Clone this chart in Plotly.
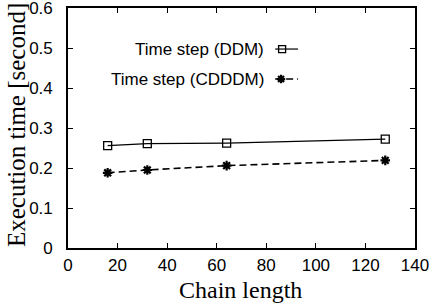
import plotly.graph_objects as go

chain_length = [16, 32, 64, 128]
ddm = [0.256, 0.261, 0.262, 0.272]
cdddm = [0.188, 0.195, 0.206, 0.219]
names = ["Time step (DDM)", "Time step (CDDDM)"]
x_title = "Chain length"
y_title = "Execution time [second]"

fig = go.Figure()
fig.add_trace(go.Scatter(x=chain_length, y=ddm, mode="lines+markers", name=names[0],
                         line=dict(color="black", width=1.2),
                         marker=dict(symbol="square-open", size=8, color="black", line=dict(width=1.3)),
                         showlegend=False))
fig.add_trace(go.Scatter(x=chain_length, y=cdddm, mode="lines+markers", name=names[1],
                         line=dict(color="black", width=1.6, dash="7px,4px"),
                         marker=dict(symbol="asterisk-open", size=8, color="black", line=dict(width=2.2, color="black")),
                         showlegend=False))

# legend samples on an overlay axis (0-1 units)
leg_y = [0.829, 0.704]
fig.add_trace(go.Scatter(x=[0.597, 0.663], y=[leg_y[0]] * 2, xaxis="x2", yaxis="y2", mode="lines",
                         line=dict(color="black", width=1.2), showlegend=False, hoverinfo="skip"))
fig.add_trace(go.Scatter(x=[0.617], y=[leg_y[0]], xaxis="x2", yaxis="y2", mode="markers",
                         marker=dict(symbol="square-open", size=7, color="black", line=dict(width=1.3)),
                         showlegend=False, hoverinfo="skip"))
fig.add_trace(go.Scatter(x=[0.597, 0.663], y=[leg_y[1]] * 2, xaxis="x2", yaxis="y2", mode="lines",
                         line=dict(color="black", width=1.6, dash="7px,4px"), showlegend=False, hoverinfo="skip"))
fig.add_trace(go.Scatter(x=[0.614], y=[leg_y[1]], xaxis="x2", yaxis="y2", mode="markers",
                         marker=dict(symbol="asterisk-open", size=7, color="black", line=dict(width=2.2, color="black")),
                         showlegend=False, hoverinfo="skip"))
for nm, yy in zip(names, leg_y):
    fig.add_annotation(x=0.570, y=yy, xref="x2", yref="y2", text=nm, showarrow=False,
                       xanchor="right", yanchor="middle",
                       font=dict(family="Liberation Sans, Arial", size=17, color="black"))

serif = dict(family="Liberation Serif, Times New Roman", size=24, color="black")
fig.add_annotation(x=0.496, y=-0.234, xref="paper", yref="paper", text=x_title, showarrow=False,
                   xanchor="center", yanchor="bottom", borderpad=0, font=serif)
fig.add_annotation(x=-0.15, y=0.512, xref="paper", yref="paper", text=y_title, showarrow=False,
                   xanchor="center", yanchor="middle", textangle=-90,
                   font=dict(family="Liberation Serif, Times New Roman", size=25, color="black"))

axis_common = dict(showgrid=False, zeroline=False, showline=True, mirror="ticks", linecolor="black",
                   linewidth=1.6, ticks="inside", ticklen=5, tickcolor="black", tickwidth=1.2,
                   automargin=False, ticklabeloverflow="allow",
                   tickfont=dict(family="Liberation Sans, Arial", size=17, color="black"))

fig.update_layout(
    width=429, height=304,
    margin=dict(l=68, r=14, t=8, b=56),
    paper_bgcolor="white", plot_bgcolor="white",
    xaxis=dict(range=[0, 140], dtick=20, ticklabelstandoff=1, **axis_common),
    yaxis=dict(range=[0, 0.6], dtick=0.1, tickformat="~g", ticklabelstandoff=10, **axis_common),
    xaxis2=dict(range=[0, 1], overlaying="x", visible=False, fixedrange=True),
    yaxis2=dict(range=[0, 1], overlaying="y", visible=False, fixedrange=True),
)

fig.write_html("out.html", config={"displayModeBar": False},
               post_script="document.body.style.margin='0px';")
